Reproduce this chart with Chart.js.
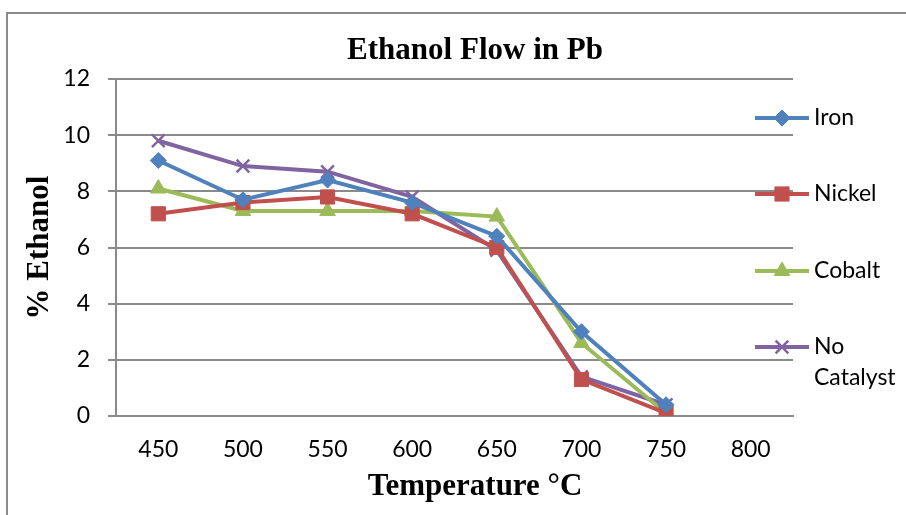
<!DOCTYPE html>
<html>
<head>
<meta charset="utf-8">
<script src="https://cdn.jsdelivr.net/npm/chart.js@4/dist/chart.umd.min.js"></script>
<style>
  html, body { margin: 0; padding: 0; background: #fff; overflow: hidden; width: 906px; height: 515px; }
  #wrap { position: relative; width: 906px; height: 515px; overflow: hidden; }
  #frame { position: absolute; left: 6px; top: 12px; width: 1000px; height: 1000px; border: 2px solid #8a8a8a; box-sizing: border-box; }
  canvas { position: absolute; left: 0; top: 0; }
</style>
</head>
<body>
<div id="wrap">
  <div id="frame"></div>
  <canvas id="c" width="950" height="515"></canvas>
</div>
<script>
const categories = ['450', '500', '550', '600', '650', '700', '750', '800'];
const iron       = [9.1, 7.7, 8.4, 7.6, 6.4, 3.0, 0.4, null];
const nickel     = [7.2, 7.6, 7.8, 7.2, 6.0, 1.3, 0.1, null];
const cobalt     = [8.1, 7.3, 7.3, 7.3, 7.1, 2.6, 0.1, null];
const noCatalyst = [9.8, 8.9, 8.7, 7.8, 5.9, 1.4, 0.4, null];
const yTicks     = [0, 2, 4, 6, 8, 10, 12];
const seriesNames = ['Iron', 'Nickel', 'Cobalt', ['No', 'Catalyst']];

const colors = ['#4F81BD', '#C0504D', '#9BBB59', '#8064A2'];
const styles = ['rectRot', 'rect', 'triangle', 'crossRot'];
const radii  = [8, 10, 9, 9];
const allData = [iron, nickel, cobalt, noCatalyst];

const datasets = allData.map((d, i) => ({
  label: Array.isArray(seriesNames[i]) ? seriesNames[i].join(' ') : seriesNames[i],
  data: d,
  borderColor: colors[i],
  backgroundColor: colors[i],
  borderWidth: 4,
  pointStyle: styles[i],
  pointRadius: radii[i],
  pointHoverRadius: radii[i],
  pointBorderWidth: i === 3 ? 2.5 : 1,
  pointBorderColor: colors[i],
  pointBackgroundColor: colors[i],
  tension: 0,
  spanGaps: false
}));

const legendPlugin = {
  id: 'sideLegend',
  afterDraw(chart) {
    const ctx = chart.ctx;
    const ys = [118, 194, 271, 347];
    ctx.save();
    chart.data.datasets.forEach((ds, i) => {
      const y = ys[i];
      ctx.strokeStyle = ds.borderColor;
      ctx.lineWidth = 4;
      ctx.beginPath();
      ctx.moveTo(755, y);
      ctx.lineTo(809, y);
      ctx.stroke();
      ctx.fillStyle = ds.backgroundColor;
      ctx.lineWidth = ds.pointBorderWidth;
      Chart.helpers.drawPoint(ctx, { pointStyle: ds.pointStyle, radius: ds.pointRadius, borderWidth: ds.pointBorderWidth, rotation: 0 }, 782, y);
      ctx.fillStyle = '#000';
      ctx.font = '23px Lato';
      ctx.textAlign = 'left';
      ctx.textBaseline = 'middle';
      const name = seriesNames[i];
      const lines = Array.isArray(name) ? name : [name];
      lines.forEach((t, k) => ctx.fillText(t, 814, y + k * 31));
    });
    ctx.restore();
  }
};

const titleFont = { family: 'Liberation Serif', size: 31, weight: 'bold' };

new Chart(document.getElementById('c'), {
  type: 'line',
  data: { labels: categories, datasets },
  plugins: [legendPlugin],
  options: {
    responsive: false,
    animation: false,
    events: [],
    layout: { padding: { left: 0, right: 0, top: 22, bottom: 0 } },
    plugins: {
      legend: { display: false },
      tooltip: { enabled: false },
      title: {
        display: true,
        text: 'Ethanol Flow in Pb',
        color: '#000',
        font: titleFont,
        padding: { top: 10.4, bottom: 9.4 }
      },
      subtitle: {
        display: true,
        position: 'bottom',
        text: 'Temperature °C',
        color: '#000',
        font: titleFont,
        padding: { top: 0, bottom: 9.4 }
      }
    },
    scales: {
      x: {
        type: 'category',
        offset: true,
        grid: { display: false },
        border: { display: true, color: '#8a8a8a', width: 2 },
        ticks: { color: '#000', font: { family: 'Lato', size: 23 }, padding: 12, maxRotation: 0, autoSkip: false },
        afterFit(s) { s.height = 52.4; }
      },
      y: {
        min: 0,
        max: 12,
        afterBuildTicks(s) { s.ticks = yTicks.map(v => ({ value: v })); },
        grid: { color: '#8a8a8a', lineWidth: 2, tickLength: 8, drawTicks: true },
        border: { display: true, color: '#8a8a8a', width: 2 },
        ticks: { color: '#000', font: { family: 'Lato', size: 23 }, padding: 18 },
        title: {
          display: true,
          text: '% Ethanol',
          color: '#000',
          font: titleFont,
          padding: { top: 21.4, bottom: 0 }
        },
        afterFit(s) { s.width = 116; }
      },
      legendSpace: {
        type: 'linear',
        position: 'right',
        display: true,
        grid: { display: false, drawOnChartArea: false },
        border: { display: false },
        ticks: { display: false },
        afterFit(s) { s.width = 157; }
      }
    }
  }
});
</script>
</body>
</html>
